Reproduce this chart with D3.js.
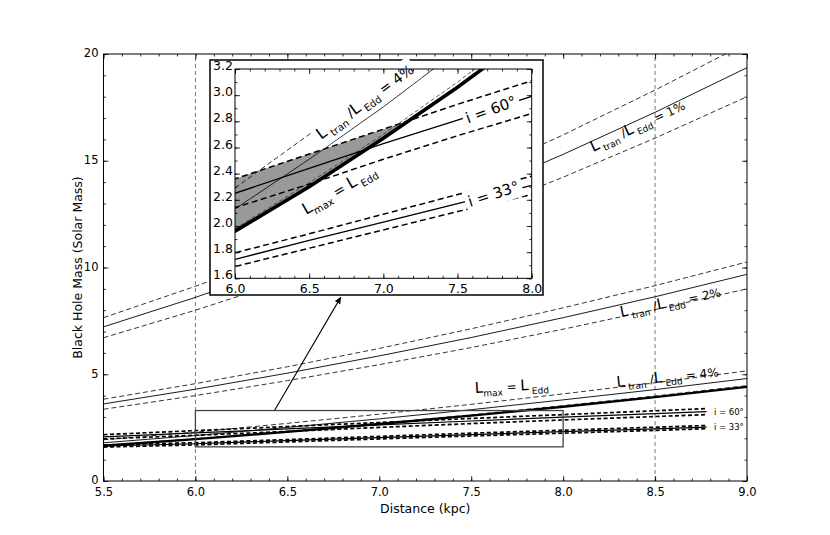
<!DOCTYPE html>
<html>
<head>
<meta charset="utf-8">
<script src="https://cdnjs.cloudflare.com/ajax/libs/d3/7.8.5/d3.min.js"></script>
<style>
body { margin: 0; background: #fff; }
text { font-family: "DejaVu Sans", sans-serif; }
</style>
</head>
<body>
<div id="chart"></div>
<script>
// distances (kpc) where the mass curves are read
var distances = [5.5, 6.0, 6.5, 7.0, 7.5, 8.0, 8.5, 9.0];
// Ltran / LEdd = 1 %, 2 %, 4 % (solid + dashed bounds)
var tran1   = [7.22, 8.60, 10.10, 11.71, 13.44, 15.30, 17.27, 19.36];
var tran1Hi = [7.65, 9.12, 10.71, 12.41, 14.25, 16.21, 18.31, 20.52];
var tran1Lo = [6.71, 8.00, 9.39, 10.89, 12.50, 14.23, 16.06, 18.00];
var tran2   = [3.61, 4.30, 5.05, 5.86, 6.72, 7.65, 8.63, 9.68];
var tran2Hi = [3.83, 4.56, 5.35, 6.21, 7.13, 8.11, 9.15, 10.26];
var tran2Lo = [3.36, 4.00, 4.70, 5.45, 6.25, 7.11, 8.03, 9.00];
var tran4   = [1.79, 2.13, 2.51, 2.91, 3.34, 3.80, 4.28, 4.80];
var tran4Hi = [1.93, 2.29, 2.70, 3.13, 3.59, 4.08, 4.60, 5.16];
var tran4Lo = [1.67, 1.98, 2.33, 2.70, 3.10, 3.53, 3.98, 4.47];
// Lmax = LEdd
var lmaxEdd = [1.65, 1.96, 2.30, 2.67, 3.06, 3.48, 3.93, 4.41];
// inclination curves
var incDist = [5.5, 6.0, 6.5, 7.0, 7.5, 8.0, 8.5, 8.78];
var inc60   = [2.07, 2.25, 2.44, 2.63, 2.81, 2.99, 3.16, 3.25];
var inc60Hi = [2.17, 2.36, 2.55, 2.74, 2.93, 3.11, 3.29, 3.39];
var inc60Lo = [1.97, 2.14, 2.32, 2.51, 2.69, 2.86, 3.02, 3.11];
var inc33   = [1.64, 1.745, 1.89, 2.03, 2.17, 2.31, 2.44, 2.52];
var inc33Hi = [1.69, 1.795, 1.94, 2.09, 2.24, 2.38, 2.52, 2.60];
var inc33Lo = [1.59, 1.69, 1.83, 1.97, 2.11, 2.24, 2.37, 2.45];
// ticks
var xTicks = [5.5, 6.0, 6.5, 7.0, 7.5, 8.0, 8.5, 9.0];
var yTicks = [0, 5, 10, 15, 20];
var refDist = [6.0, 8.5];
var insetXTicks = [6.0, 6.5, 7.0, 7.5, 8.0];
var insetYTicks = [1.6, 1.8, 2.0, 2.2, 2.4, 2.6, 2.8, 3.0, 3.2];
// zoom box and arrow (data coords of main axes)
var zoomX = [6.0, 8.0], zoomY = [1.6, 3.3];
var arrowFrom = [6.43, 3.3], arrowTo = [6.79, 8.6];

var W = 830, H = 535;
var svg = d3.select("#chart").append("svg").attr("width", W).attr("height", H);
var defs = svg.append("defs");

var x = d3.scaleLinear().domain([5.5, 9.0]).range([103.5, 747]);
var y = d3.scaleLinear().domain([0, 20]).range([481, 54]);
var ix = d3.scaleLinear().domain([6, 8]).range([235, 531.7]);
var iy = d3.scaleLinear().domain([1.6, 3.2]).range([278.3, 69]);

function clip(id, xs, ys) {
    defs.append("clipPath").attr("id", id).append("rect")
        .attr("x", xs.range()[0]).attr("y", ys.range()[1])
        .attr("width", xs.range()[1] - xs.range()[0])
        .attr("height", ys.range()[0] - ys.range()[1]);
}
clip("clipMain", x, y);
clip("clipInset", ix, iy);

function curve(g, xs, ys, xv, yv, w, dash, col) {
    var line = d3.line().x(function (d) { return xs(d[0]); }).y(function (d) { return ys(d[1]); });
    g.append("path").datum(d3.zip(xv, yv)).attr("d", line)
        .attr("fill", "none").attr("stroke", col || "#000").attr("stroke-width", w)
        .attr("stroke-dasharray", dash || null);
}

function axes(g, xs, ys, xMajor, xMinor, yMajor, yMinor, fx, fy, fs, padX, padY, yDy) {
    var x0 = xs.range()[0], x1 = xs.range()[1], yb = ys.range()[0], yt = ys.range()[1];
    var parts = [
        [d3.axisBottom(xs).tickValues(xMajor).tickSize(-5).tickPadding(padX).tickFormat(fx), "translate(0," + yb + ")"],
        [d3.axisBottom(xs).tickValues(xMinor).tickSize(-2.5).tickFormat(""), "translate(0," + yb + ")"],
        [d3.axisTop(xs).tickValues(xMajor).tickSize(-5).tickFormat(""), "translate(0," + yt + ")"],
        [d3.axisTop(xs).tickValues(xMinor).tickSize(-2.5).tickFormat(""), "translate(0," + yt + ")"],
        [d3.axisLeft(ys).tickValues(yMajor).tickSize(-5).tickPadding(padY).tickFormat(fy), "translate(" + x0 + ",0)", true],
        [d3.axisLeft(ys).tickValues(yMinor).tickSize(-2.5).tickFormat(""), "translate(" + x0 + ",0)"],
        [d3.axisRight(ys).tickValues(yMajor).tickSize(-5).tickFormat(""), "translate(" + x1 + ",0)"],
        [d3.axisRight(ys).tickValues(yMinor).tickSize(-2.5).tickFormat(""), "translate(" + x1 + ",0)"]
    ];
    parts.forEach(function (p) {
        var a = g.append("g").attr("transform", p[1]).call(p[0]);
        a.select(".domain").remove();
        a.selectAll("line").attr("stroke", "#000").attr("stroke-width", 0.8);
        a.selectAll("text").attr("font-size", fs).attr("fill", "#000")
            .style("font-family", "DejaVu Sans, sans-serif");
        if (p[2]) a.selectAll("text").attr("dy", yDy);
    });
    g.append("rect").attr("x", x0).attr("y", yt).attr("width", x1 - x0).attr("height", yb - yt)
        .attr("fill", "none").attr("stroke", "#000").attr("stroke-width", 1);
}

// rotated label built from parts; sub parts are drawn as subscripts
function label(g, parts, px, py, angle, big, rest, sub, bg) {
    var gg = g.append("g").attr("transform", "translate(" + px + "," + py + ") rotate(" + angle + ")");
    var t = gg.append("text").attr("x", 0).attr("y", 0).attr("fill", "#000");
    var down = false;
    parts.forEach(function (p) {
        var s = t.append("tspan").text(p.t);
        if (p.sub) {
            s.attr("font-size", sub).attr("dy", sub * 0.45);
            down = true;
        } else {
            s.attr("font-size", p.big ? big : rest);
            if (down) { s.attr("dy", -sub * 0.45); down = false; }
        }
    });
    if (bg) {
        var b = t.node().getBBox();
        gg.insert("rect", "text").attr("x", b.x - 3).attr("y", b.y - 2)
            .attr("width", b.width + 6).attr("height", b.height + 4).attr("fill", "#fff");
    }
}
function tranParts(pct) {
    return [{t: "L", big: true}, {t: " tran", sub: true}, {t: " /"}, {t: "L", big: true},
            {t: " Edd", sub: true}, {t: " = " + pct}];
}
var lmaxParts = [{t: "L", big: true}, {t: "max", sub: true}, {t: " = "}, {t: "L", big: true}, {t: " Edd", sub: true}];

// ---------- main axes ----------
var main = svg.append("g");
var plot = main.append("g").attr("clip-path", "url(#clipMain)");

refDist.forEach(function (d) {
    plot.append("line").attr("x1", x(d)).attr("x2", x(d)).attr("y1", y(0)).attr("y2", y(20))
        .attr("stroke", "#555").attr("stroke-width", 0.8).attr("stroke-dasharray", "4,3");
});

[[tran1, tran1Hi, tran1Lo], [tran2, tran2Hi, tran2Lo], [tran4, tran4Hi, tran4Lo]].forEach(function (s) {
    curve(plot, x, y, distances, s[1], 0.8, "5,3");
    curve(plot, x, y, distances, s[2], 0.8, "5,3");
    curve(plot, x, y, distances, s[0], 0.9);
});
curve(plot, x, y, distances, lmaxEdd, 2.4);
[[inc60, inc60Hi, inc60Lo], [inc33, inc33Hi, inc33Lo]].forEach(function (s) {
    curve(plot, x, y, incDist, s[0], 1.2);
    curve(plot, x, y, incDist, s[1], 1.7, "4,2.5");
    curve(plot, x, y, incDist, s[2], 1.7, "4,2.5");
});

axes(main, x, y, xTicks, d3.range(55, 91).map(function (v) { return v / 10; }),
     yTicks, d3.range(0, 21), d3.format(".1f"), d3.format("d"), 11.5, 7, 5, "0.25em");

main.append("text").attr("x", (x.range()[0] + x.range()[1]) / 2).attr("y", 513)
    .attr("text-anchor", "middle").attr("font-size", 12.5).text("Distance (kpc)");
main.append("text").attr("transform", "translate(82," + ((y.range()[0] + y.range()[1]) / 2) + ") rotate(-90)")
    .attr("text-anchor", "middle").attr("font-size", 12.5).text("Black Hole Mass (Solar Mass)");

label(main, tranParts("1%"), 593, 152, -25, 15, 12, 9, false);
label(main, tranParts("2%"), 621, 317, -11.5, 15, 12, 9, false);
label(main, tranParts("4%"), 617, 387, -6, 15, 12, 9, false);
label(main, lmaxParts, 475, 393, -3, 15, 12, 9, false);
main.append("text").attr("x", x(8.82)).attr("y", 414.5).attr("font-size", 8.5).text("i = 60°");
main.append("text").attr("x", x(8.82)).attr("y", 430).attr("font-size", 8.5).text("i = 33°");

// zoom box and arrow
main.append("rect").attr("x", x(zoomX[0])).attr("y", y(zoomY[1]))
    .attr("width", x(zoomX[1]) - x(zoomX[0])).attr("height", y(zoomY[0]) - y(zoomY[1]))
    .attr("fill", "none").attr("stroke", "#444").attr("stroke-width", 1.3);
defs.append("marker").attr("id", "head").attr("viewBox", "0 -5 10 10").attr("refX", 9).attr("refY", 0)
    .attr("markerWidth", 7).attr("markerHeight", 7).attr("markerUnits", "userSpaceOnUse")
    .attr("orient", "auto").append("path").attr("d", "M0,-4.5L10,0L0,4.5Z").attr("fill", "#000");
main.append("line").attr("x1", x(arrowFrom[0])).attr("y1", y(arrowFrom[1]))
    .attr("x2", x(arrowTo[0])).attr("y2", y(arrowTo[1]))
    .attr("stroke", "#000").attr("stroke-width", 1.1).attr("marker-end", "url(#head)");

// ---------- inset ----------
var inset = svg.append("g");
inset.append("rect").attr("x", 210).attr("y", 60).attr("width", 333).attr("height", 235)
    .attr("fill", "#fff").attr("stroke", "#111").attr("stroke-width", 1.6);
var iplot = inset.append("g").attr("clip-path", "url(#clipInset)");

// shaded region between i = 60 upper bound and Lmax = LEdd
var shade = [];
for (var k = 0; k < incDist.length - 1; k++) {
    var d = incDist[k];
    if (d < zoomX[0]) continue;
    var j = distances.indexOf(d);
    var gap = inc60Hi[k] - lmaxEdd[j];
    var gapNext = inc60Hi[k + 1] - lmaxEdd[j + 1];
    shade.push([d, lmaxEdd[j], inc60Hi[k]]);
    if (gapNext <= 0) {
        var f = gap / (gap - gapNext);
        var xc = d + f * (incDist[k + 1] - d);
        var yc = lmaxEdd[j] + f * (lmaxEdd[j + 1] - lmaxEdd[j]);
        shade.push([xc, yc, yc]);
        break;
    }
}
iplot.append("path").datum(shade)
    .attr("d", d3.area().x(function (d) { return ix(d[0]); })
        .y0(function (d) { return iy(d[1]); }).y1(function (d) { return iy(d[2]); }))
    .attr("fill", "#999");

curve(iplot, ix, iy, distances, tran4Hi, 0.8, "5,3");
curve(iplot, ix, iy, distances, tran4, 0.8);
curve(iplot, ix, iy, distances, lmaxEdd, 3.6);
curve(iplot, ix, iy, distances, tran4Lo, 0.8, "4,2.5", "#333");
[[inc60, inc60Hi, inc60Lo], [inc33, inc33Hi, inc33Lo]].forEach(function (s) {
    curve(iplot, ix, iy, incDist, s[0], 1.3);
    curve(iplot, ix, iy, incDist, s[1], 1.5, "6,3.5");
    curve(iplot, ix, iy, incDist, s[2], 1.5, "6,3.5");
});

label(inset, tranParts("4%"), 321, 140, -36, 16, 14, 10, true);
label(inset, lmaxParts, 306, 215, -30, 16, 14, 10, false);
label(inset, [{t: "i = 60°"}], 468, 123.5, -20, 15, 15, 10, true);
label(inset, [{t: "i = 33°"}], 470, 207, -18, 15, 15, 10, true);

axes(inset, ix, iy, insetXTicks, d3.range(60, 81).map(function (v) { return v / 10; }),
     insetYTicks, d3.range(16, 33).map(function (v) { return v / 10; }),
     d3.format(".1f"), d3.format(".1f"), 12.5, 6, 2, "0.05em");
</script>
</body>
</html>
